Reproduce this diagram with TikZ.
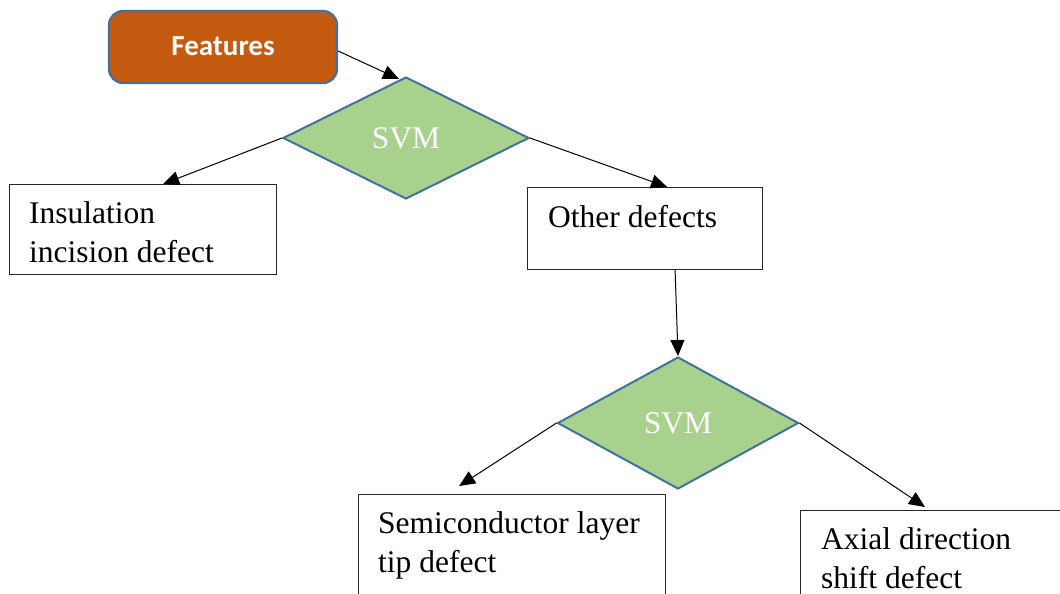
\documentclass[tikz,border=0pt]{standalone}
\usepackage{fontspec}
\setmainfont{Liberation Serif}
\newfontfamily\calibri{Carlito}
\usetikzlibrary{shapes.geometric,arrows.meta}
\definecolor{featfill}{HTML}{C55A11}
\definecolor{edgeblue}{HTML}{41719C}
\definecolor{svmfill}{HTML}{A9D18E}
\begin{document}
\begin{tikzpicture}[x=1pt,y=-1pt,
  startbox/.style={draw=edgeblue, line width=2.2pt, fill=featfill, rounded corners=14pt,
    text=white, font=\calibri\bfseries\fontsize{29}{34}\selectfont},
  decision/.style={diamond, draw=edgeblue, line width=2pt, fill=svmfill, inner sep=0pt,
    text=white, font=\fontsize{31.5}{38}\selectfont},
  outbox/.style={draw=black!85, line width=1.2pt, inner sep=0pt, anchor=north west},
  boxtext/.style={anchor=base west, align=left, inner sep=0pt,
    font=\fontsize{31.5}{38.5}\selectfont},
  flow/.style={-{Triangle[length=16pt,width=14pt]}, line width=1pt}
]
\useasboundingbox (0,0) rectangle (1060,594);
\clip (0,0) rectangle (1060,594);

% start node and the two classifiers
\node[startbox, minimum width=228pt, minimum height=72pt] (feat) at (223,47) {\raisebox{2pt}{Features}};
\node[decision, minimum width=246pt, minimum height=122pt] (svm1) at (406,138) {SVM};
\node[decision, minimum width=241pt, minimum height=132pt] (svm2) at (678,423) {SVM};

% result boxes (text anchored at the baseline of its last line)
\node[outbox, minimum width=267pt, minimum height=90pt] (ins) at (9,184) {};
\node[boxtext] (insT) at ([xshift=20pt,yshift=-78pt]ins.north west) {Insulation\\incision defect};

\node[outbox, minimum width=235pt, minimum height=82pt] (oth) at (527,187) {};
\node[boxtext] (othT) at ([xshift=21pt,yshift=-40pt]oth.north west) {Other defects};

\node[outbox, minimum width=307pt, minimum height=120pt] (semi) at (358,494) {};
\node[boxtext] (semiT) at ([xshift=20pt,yshift=-78pt]semi.north west) {Semiconductor layer\\tip defect};

\node[outbox, minimum width=280pt, minimum height=110pt] (axi) at (800,510) {};
\node[boxtext] (axiT) at ([xshift=21pt,yshift=-78pt]axi.north west) {Axial direction\\shift defect};

% connectors
\draw[flow] ([yshift=-4pt]feat.east) -- ([xshift=-7pt,yshift=-3pt]svm1.north);
\draw[flow] (svm1.west) -- ([xshift=20pt]ins.north);
\draw[flow] (svm1.east) -- ([xshift=22pt]oth.north);
\draw[flow] ([xshift=30pt]oth.south) -- (svm2.north);
\draw[flow] (svm2.west) -- ([xshift=-53pt,yshift=8pt]semi.north);
\draw[flow] (svm2.east) -- ([xshift=125pt,yshift=3pt]axi.north west);
\end{tikzpicture}
\end{document}
